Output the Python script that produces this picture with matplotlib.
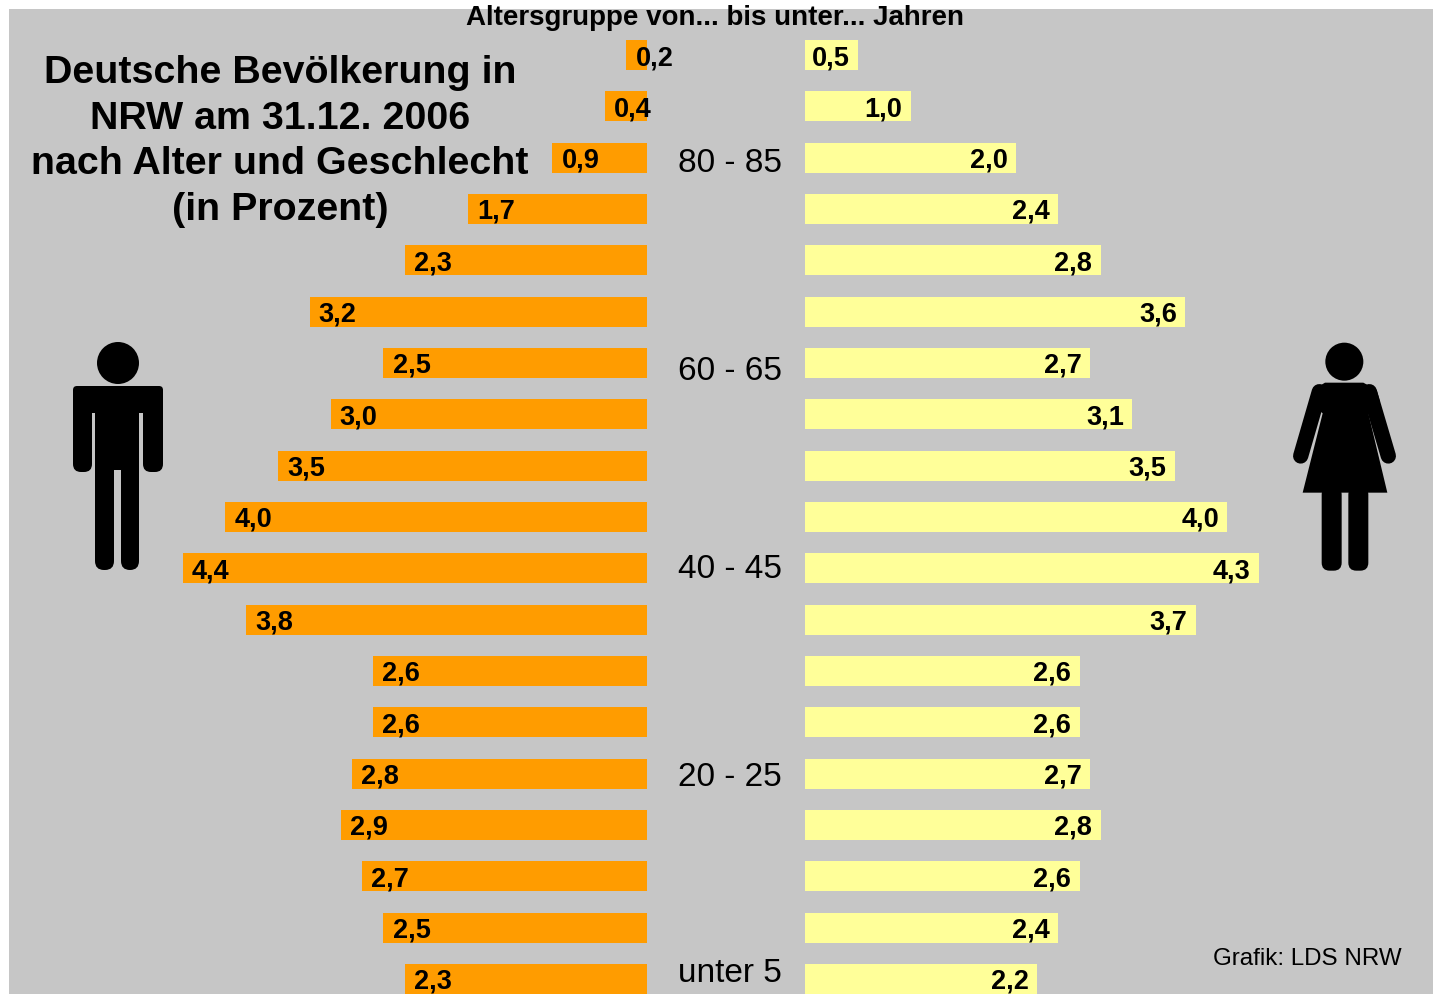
#!/usr/bin/env python3
"""Bevoelkerungspyramide NRW 2006, Maenner links, Frauen rechts."""

import matplotlib
matplotlib.use('Agg')
import matplotlib.pyplot as plt
from matplotlib.patches import Circle, FancyBboxPatch, Polygon, Rectangle

W, H = 1433, 994
FONT = 'Liberation Sans'
BG = '#C6C6C6'
ORANGE = '#FF9C00'
YELLOW = '#FFFF99'

# Reihen von oben (aelteste) nach unten (juengste)
maenner = [0.2, 0.4, 0.9, 1.7, 2.3, 3.2, 2.5, 3.0, 3.5, 4.0, 4.4, 3.8, 2.6, 2.6, 2.8, 2.9, 2.7, 2.5, 2.3]
frauen = [0.5, 1.0, 2.0, 2.4, 2.8, 3.6, 2.7, 3.1, 3.5, 4.0, 4.3, 3.7, 2.6, 2.6, 2.7, 2.8, 2.6, 2.4, 2.2]
alter_labels = ['80 - 85', '60 - 65', '40 - 45', '20 - 25', 'unter 5']
alter_y = [163, 372, 570, 778, 974]
titel = ['Deutsche Bevölkerung in', 'NRW am 31.12. 2006', 'nach Alter und Geschlecht', '(in Prozent)']
titel_y = [73, 119, 164, 210]

PX_PRO_PROZENT = 105.6
ZEILE = 51.33
Y0 = 55
BAR_H = 30 / ZEILE


def px_axes(fig, x0, x1, y0, y1, **kw):
    return fig.add_axes([x0 / W, 1 - y1 / H, (x1 - x0) / W, (y1 - y0) / H], **kw)


def wert(v):
    return f'{v:.1f}'.replace('.', ',')


def runde_form(ax, x0, y0, x1, y1, r=5):
    ax.add_patch(FancyBboxPatch((x0 + r, y0 + r), x1 - x0 - 2 * r, y1 - y0 - 2 * r,
                                boxstyle=f'round,pad={r},rounding_size={r}',
                                fc='black', ec='none'))


def mann(ax):
    ax.add_patch(Circle((118, 363), 21, fc='black', ec='none'))
    runde_form(ax, 73, 386, 163, 413, 4)
    runde_form(ax, 73, 395, 92, 472, 8)
    runde_form(ax, 143, 395, 163, 472, 8)
    ax.add_patch(Rectangle((95, 400), 44, 70, fc='black', ec='none'))
    runde_form(ax, 95, 450, 114, 570, 9)
    runde_form(ax, 121, 450, 139, 570, 9)


def frau(ax):
    def z(x, y):
        return 1280 + x / 3, 330 + y / 3

    ax.add_patch(Circle(z(193, 95), 19, fc='black', ec='none'))
    ax.add_patch(Polygon([z(135, 158), z(250, 158), z(290, 180), z(300, 215), z(265, 250),
                          z(322, 488), z(68, 488), z(128, 250), z(88, 215), z(98, 180)],
                         closed=True, fc='black', ec='none'))
    for xs, ys in [((118, 62), (185, 378)), ((268, 325), (185, 378))]:
        (x0, y0), (x1, y1) = z(xs[0], ys[0]), z(xs[1], ys[1])
        ax.plot([x0, x1], [y0, y1], color='black', lw=11, solid_capstyle='round')
    x0, y0 = z(125, 470)
    x1, y1 = z(185, 722)
    runde_form(ax, x0, y0, x1, y1, 8)
    x0, y0 = z(205, 470)
    x1, y1 = z(265, 722)
    runde_form(ax, x0, y0, x1, y1, 8)


def main():
    plt.rcParams['font.family'] = [FONT, 'DejaVu Sans']
    fig = plt.figure(figsize=(W / 100, H / 100), dpi=100, facecolor='white')

    # Grauer Hintergrund und Beschriftung in Pixelkoordinaten
    ax_bg = px_axes(fig, 0, W, 0, H)
    ax_bg.set_xlim(0, W)
    ax_bg.set_ylim(H, 0)
    ax_bg.axis('off')
    grau = Rectangle((9, 9), W - 9, H - 9, fc=BG, ec='none')
    ax_bg.add_patch(grau)

    zeilen = list(range(len(maenner)))
    ylim = ((994 - Y0) / ZEILE, (9 - Y0) / ZEILE)

    ax_m = px_axes(fig, 9, 647.5, 9, 994)
    ax_m.set_xlim((647.5 - 9) / PX_PRO_PROZENT, 0)
    ax_f = px_axes(fig, 805, W, 9, 994)
    ax_f.set_xlim(0, (W - 805) / PX_PRO_PROZENT)
    for ax in (ax_m, ax_f):
        ax.set_ylim(*ylim)
        ax.axis('off')
        ax.patch.set_alpha(0)

    ax_m.barh(zeilen, maenner, height=BAR_H, color=ORANGE)
    ax_f.barh(zeilen, frauen, height=BAR_H, color=YELLOW)

    for i, v in enumerate(maenner):
        ax_m.annotate(wert(v), (v, i), xytext=(6.5, 0), textcoords='offset points',
                      ha='left', va='center_baseline', fontsize=19.5, fontweight='bold',
                      annotation_clip=False)
    for i, v in enumerate(frauen):
        ax_f.annotate(wert(v), (v, i), xytext=(-6, 0), textcoords='offset points',
                      ha='right', va='center_baseline', fontsize=19.5, fontweight='bold',
                      annotation_clip=False)

    # Texte und Figuren liegen ueber den Balken
    ax_t = px_axes(fig, 0, W, 0, H)
    ax_t.set_xlim(0, W)
    ax_t.set_ylim(H, 0)
    ax_t.axis('off')
    ax_t.patch.set_alpha(0)

    for txt, y in zip(titel, titel_y):
        ax_t.text(280, y, txt, ha='center', va='center', fontsize=28.4, fontweight='bold')
    for txt, y in zip(alter_labels, alter_y):
        ax_t.text(678, y, txt, ha='left', va='center', fontsize=24)
    kopf = ax_t.text(715, 18, 'Altersgruppe von... bis unter... Jahren', ha='center',
                     va='center', fontsize=20, fontweight='bold')
    kopf.set_clip_path(grau)
    ax_t.text(1307, 959, 'Grafik: LDS NRW', ha='center', va='center', fontsize=17.4)

    mann(ax_t)
    frau(ax_t)

    fig.savefig('out.png', dpi=100, facecolor='white')


if __name__ == '__main__':
    main()
